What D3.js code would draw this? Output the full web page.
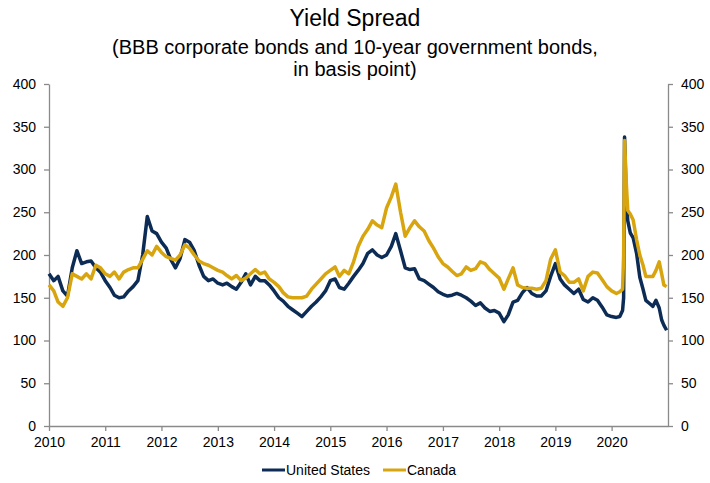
<!DOCTYPE html>
<html>
<head>
<meta charset="utf-8">
<script src="https://cdn.jsdelivr.net/npm/d3@7/dist/d3.min.js"></script>
<style>
  body { margin: 0; background: #fff; }
  text { font-family: Arial, "Liberation Sans", sans-serif; }
</style>
</head>
<body>
<div class="chart"></div>
<script>
// monthly readings, Jan 2010 - Dec 2019 (basis points)
var usMonthly = [
  178, 170, 175, 158, 152, 185, 205, 190, 192, 193, 185, 180,
  170, 162, 153, 150, 151, 158, 163, 170, 200, 245, 228, 225,
  215, 208, 195, 185, 196, 218, 215, 205, 188, 175, 170, 172,
  167, 165, 167, 163, 160, 168, 178, 165, 175, 170, 170, 165,
  158, 150, 146, 140, 136, 132, 128, 134, 140, 145, 151, 158,
  170, 172, 162, 160, 167, 175, 182, 190, 202, 206, 200, 197,
  200, 210, 225, 205, 185, 183, 184, 172, 170, 166, 162, 157,
  154, 152, 153, 155, 153, 150, 146, 141, 144, 138, 134, 135,
  132, 122, 130, 145, 147, 156, 162, 155, 152, 152, 158, 175,
  190, 172, 165, 160, 155, 160, 148, 145, 150, 147, 139, 130
];
var caMonthly = [
  165, 158, 145, 140, 150, 178, 175, 172, 178, 172, 188, 185,
  178, 175, 180, 172, 180, 183, 185, 185, 195, 205, 200, 210,
  203, 198, 196, 194, 200, 212, 208, 200, 193, 190, 188, 185,
  182, 180, 176, 172, 176, 170, 173, 178, 183, 178, 180, 172,
  168, 163, 156, 151, 150, 150, 150, 152, 160, 166, 172, 178,
  182, 186, 175, 182, 178, 192, 210, 222, 230, 240, 235, 232,
  255, 268, 283, 250, 222, 232, 240, 233, 228, 217, 208, 198,
  190, 186, 181, 176, 178, 186, 182, 184, 192, 190, 183, 178,
  173, 160, 172, 185, 165, 162, 161, 161, 160, 161, 170, 195,
  206, 180, 176, 168, 168, 172, 158, 175, 180, 179, 171, 163
];

// 2020 moves faster, so it is read at finer dates
var dates2020 = ["2020-01-01", "2020-02-01", "2020-02-23", "2020-03-12", "2020-03-19",
  "2020-03-25", "2020-04-05", "2020-04-15", "2020-05-01", "2020-05-20", "2020-06-11",
  "2020-07-02", "2020-07-23", "2020-08-10", "2020-09-05", "2020-09-25", "2020-10-15",
  "2020-11-05", "2020-11-21", "2020-12-05", "2020-12-23"];
var us2020 = [128, 127, 128, 135, 150, 338, 265, 240, 226, 220, 202, 174, 160, 147, 143, 140, 147, 138, 124, 118, 112];
var ca2020 = [158, 155, 157, 160, 200, 334, 285, 252, 248, 241, 218, 200, 188, 175, 175, 175, 182, 192, 178, 165, 163];

var seriesNames = ["United States", "Canada"];
var seriesColors = ["#0c2c55", "#d8a50e"];
var yTicks = [0, 50, 100, 150, 200, 250, 300, 350, 400];
var xYears = [2010, 2011, 2012, 2013, 2014, 2015, 2016, 2017, 2018, 2019, 2020];

var width = 710, height = 483;
var margin = {top: 84, right: 42, bottom: 57, left: 49};

var parse = d3.timeParse("%Y-%m-%d");
var months = d3.timeMonth.range(new Date(2010, 0, 1), new Date(2020, 0, 1));

function buildSeries(monthly, late){
  var pts = monthly.map(function(v, i){ return {date: months[i], value: v}; });
  late.forEach(function(v, i){ pts.push({date: parse(dates2020[i]), value: v}); });
  return pts;
}
var series = [buildSeries(usMonthly, us2020), buildSeries(caMonthly, ca2020)];

var svg = d3.select(".chart").append("svg")
  .attr("width", width)
  .attr("height", height);

var x = d3.scaleTime()
  .domain([new Date(2010, 0, 1), new Date(2021, 0, 1)])
  .range([margin.left, width - margin.right]);
var y = d3.scaleLinear()
  .domain([0, 400])
  .range([height - margin.bottom, margin.top]);

// titles
svg.append("text")
  .attr("x", width / 2).attr("y", 26)
  .attr("text-anchor", "middle")
  .attr("font-size", 23)
  .text("Yield Spread");
svg.append("text")
  .attr("x", width / 2).attr("y", 54)
  .attr("text-anchor", "middle")
  .attr("font-size", 20)
  .text("(BBB corporate bonds and 10-year government bonds,");
svg.append("text")
  .attr("x", width / 2).attr("y", 76)
  .attr("text-anchor", "middle")
  .attr("font-size", 20)
  .text("in basis point)");

// axes
var axisColor = "#8a8a8a";
function styleAxis(g){
  g.selectAll("path").attr("stroke", axisColor).attr("stroke-width", 1.3);
  g.selectAll("line").attr("stroke", axisColor).attr("stroke-width", 1.3);
  g.selectAll("text").attr("fill", "#000").attr("font-size", 14)
    .attr("font-family", "Arial, 'Liberation Sans', sans-serif");
}

svg.append("g")
  .attr("transform", "translate(" + margin.left + ",0)")
  .call(d3.axisLeft(y).tickValues(yTicks).tickSize(5).tickSizeOuter(0).tickPadding(8))
  .call(styleAxis);

svg.append("g")
  .attr("transform", "translate(" + (width - margin.right) + ",0)")
  .call(d3.axisRight(y).tickValues(yTicks).tickSize(5).tickSizeOuter(0).tickPadding(8))
  .call(styleAxis);

svg.append("g")
  .attr("transform", "translate(0," + (height - margin.bottom) + ")")
  .call(d3.axisBottom(x)
    .tickValues(xYears.map(function(yr){ return new Date(yr, 0, 1); }))
    .tickFormat(d3.timeFormat("%Y"))
    .tickSize(5).tickSizeOuter(0).tickPadding(6))
  .call(styleAxis);

// lines
var line = d3.line()
  .x(function(d){ return x(d.date); })
  .y(function(d){ return y(d.value); });

svg.selectAll(".series")
  .data(series)
  .enter().append("path")
  .attr("class", "series")
  .attr("d", line)
  .attr("fill", "none")
  .attr("stroke", function(d, i){ return seriesColors[i]; })
  .attr("stroke-width", 3.5)
  .attr("stroke-linejoin", "round");

// legend
var legendX = [262, 383];
var legend = svg.selectAll(".legend")
  .data(seriesNames)
  .enter().append("g")
  .attr("class", "legend")
  .attr("transform", function(d, i){ return "translate(" + legendX[i] + ",470)"; });
legend.append("line")
  .attr("x1", 0).attr("x2", 23)
  .attr("stroke", function(d, i){ return seriesColors[i]; })
  .attr("stroke-width", 3);
legend.append("text")
  .attr("x", 24).attr("y", 5)
  .attr("font-size", 14)
  .text(function(d){ return d; });
</script>
</body>
</html>
